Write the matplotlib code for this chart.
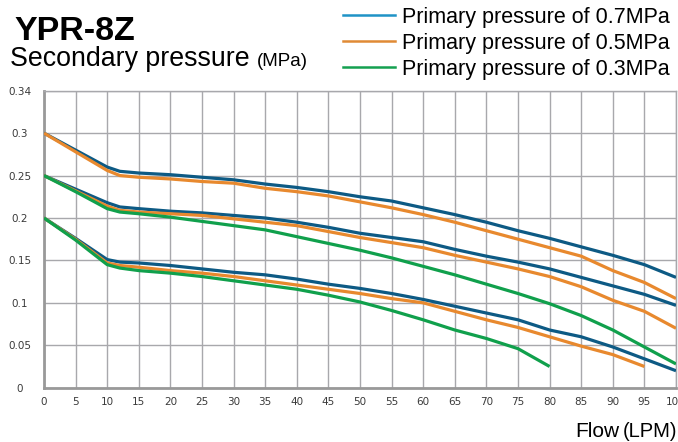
import matplotlib
matplotlib.use("Agg")
import matplotlib.pyplot as plt
from matplotlib.lines import Line2D

W, H = 678, 442

flow = [0, 5, 10, 12, 15, 20, 25, 30, 35, 40, 45, 50, 55, 60, 65, 70, 75, 80, 85, 90, 95, 100]

# set pressure 0.3 MPa
p07_s30 = [0.300, 0.280, 0.260, 0.255, 0.253, 0.251, 0.248, 0.245, 0.240, 0.236, 0.231, 0.225,
           0.220, 0.212, 0.204, 0.195, 0.185, 0.176, 0.166, 0.156, 0.145, 0.130]
p05_s30 = [0.300, 0.278, 0.256, 0.250, 0.248, 0.246, 0.243, 0.241, 0.235, 0.231, 0.226, 0.219,
           0.212, 0.204, 0.195, 0.185, 0.175, 0.165, 0.155, 0.138, 0.124, 0.105]
# set pressure 0.25 MPa
p07_s25 = [0.250, 0.234, 0.218, 0.213, 0.211, 0.208, 0.206, 0.203, 0.200, 0.195, 0.189, 0.182,
           0.177, 0.172, 0.163, 0.155, 0.148, 0.140, 0.130, 0.120, 0.110, 0.097]
p05_s25 = [0.250, 0.232, 0.214, 0.209, 0.207, 0.205, 0.203, 0.199, 0.195, 0.191, 0.184, 0.177,
           0.171, 0.165, 0.156, 0.148, 0.140, 0.131, 0.119, 0.103, 0.090, 0.070]
p03_s25 = [0.250, 0.231, 0.211, 0.207, 0.205, 0.201, 0.196, 0.191, 0.186, 0.178, 0.170, 0.162,
           0.153, 0.143, 0.133, 0.122, 0.111, 0.099, 0.085, 0.068, 0.048, 0.028]
# set pressure 0.2 MPa
p07_s20 = [0.200, 0.176, 0.151, 0.148, 0.147, 0.144, 0.140, 0.136, 0.133, 0.128, 0.122, 0.117,
           0.111, 0.104, 0.096, 0.088, 0.080, 0.068, 0.060, 0.048, 0.034, 0.020]
p05_s20 = [0.200, 0.175, 0.147, 0.144, 0.142, 0.138, 0.135, 0.131, 0.126, 0.121, 0.116, 0.111,
           0.105, 0.100, 0.090, 0.080, 0.071, 0.060, 0.049, 0.039, 0.025]
p03_s20 = [0.200, 0.174, 0.145, 0.141, 0.138, 0.135, 0.131, 0.126, 0.121, 0.116, 0.109, 0.101,
           0.091, 0.080, 0.068, 0.058, 0.046, 0.025]

xticks = list(range(0, 101, 5))
yticks = [0, 0.05, 0.1, 0.15, 0.2, 0.25, 0.3, 0.35]
ytick_labels = ["0", "0.05", "0.1", "0.15", "0.2", "0.25", "0.3", "0.34"]
legend_labels = ["Primary pressure of 0.7MPa", "Primary pressure of 0.5MPa", "Primary pressure of 0.3MPa"]

blue = "#0d5a84"
orange = "#e8892e"
green = "#10a04c"
legend_colors = ["#1f93c6", "#e08a35", "#14a050"]

fig = plt.figure(figsize=(W / 100, H / 100), dpi=100)
ax = fig.add_axes([44 / W, (H - 387.7) / H, 632 / W, 297 / H])

lw = 2.3
for ys, c in [(p07_s30, blue), (p05_s30, orange),
              (p07_s25, blue), (p05_s25, orange), (p03_s25, green),
              (p07_s20, blue), (p05_s20, orange), (p03_s20, green)]:
    ax.plot(flow[:len(ys)], ys, color=c, lw=lw, solid_capstyle="butt",
            solid_joinstyle="round", zorder=3)

ax.set_xlim(0, 100)
ax.set_ylim(0, 0.35)
ax.set_xticks(xticks)
ax.set_xticklabels([str(v) for v in xticks])
ax.set_yticks(yticks)
ax.set_yticklabels(ytick_labels)
ax.grid(True, color="#a8a8ac", lw=1.0)
ax.tick_params(length=0, labelsize=7.5, labelcolor="#3a3a3a")
ax.tick_params(axis="y", pad=17.5)
ax.tick_params(axis="x", pad=7)
for lab in ax.get_yticklabels():
    lab.set_horizontalalignment("center")
for s in ["top", "right"]:
    ax.spines[s].set_color("#a8a8ac")
    ax.spines[s].set_linewidth(1.0)
for s in ["left", "bottom"]:
    ax.spines[s].set_color("#999999")
    ax.spines[s].set_linewidth(2.0)

font = "Liberation Sans"
fig.text(14 / W, 1 - 40 / H, "YPR-8Z", fontsize=24.5, fontweight="bold", family=font)
fig.text(10 / W, 1 - 66 / H, "Secondary pressure", fontsize=19.3, family=font)
fig.text(257 / W, 1 - 66 / H, "(MPa)", fontsize=13.5, family=font)
fig.text(619 / W, 1 - 437 / H, "Flow", fontsize=15, family=font, ha="right")
fig.text(677 / W, 1 - 437 / H, "(LPM)", fontsize=14.5, family=font, ha="right")

for i, (lab, c) in enumerate(zip(legend_labels, legend_colors)):
    yc = 15 + i * 26
    fig.add_artist(Line2D([343 / W, 395 / W], [1 - yc / H, 1 - yc / H], color=c, lw=1.8,
                          transform=fig.transFigure))
    fig.text(402 / W, 1 - (yc + 7.5) / H, lab, fontsize=15.5, family=font)

fig.savefig("out.png", dpi=100)
